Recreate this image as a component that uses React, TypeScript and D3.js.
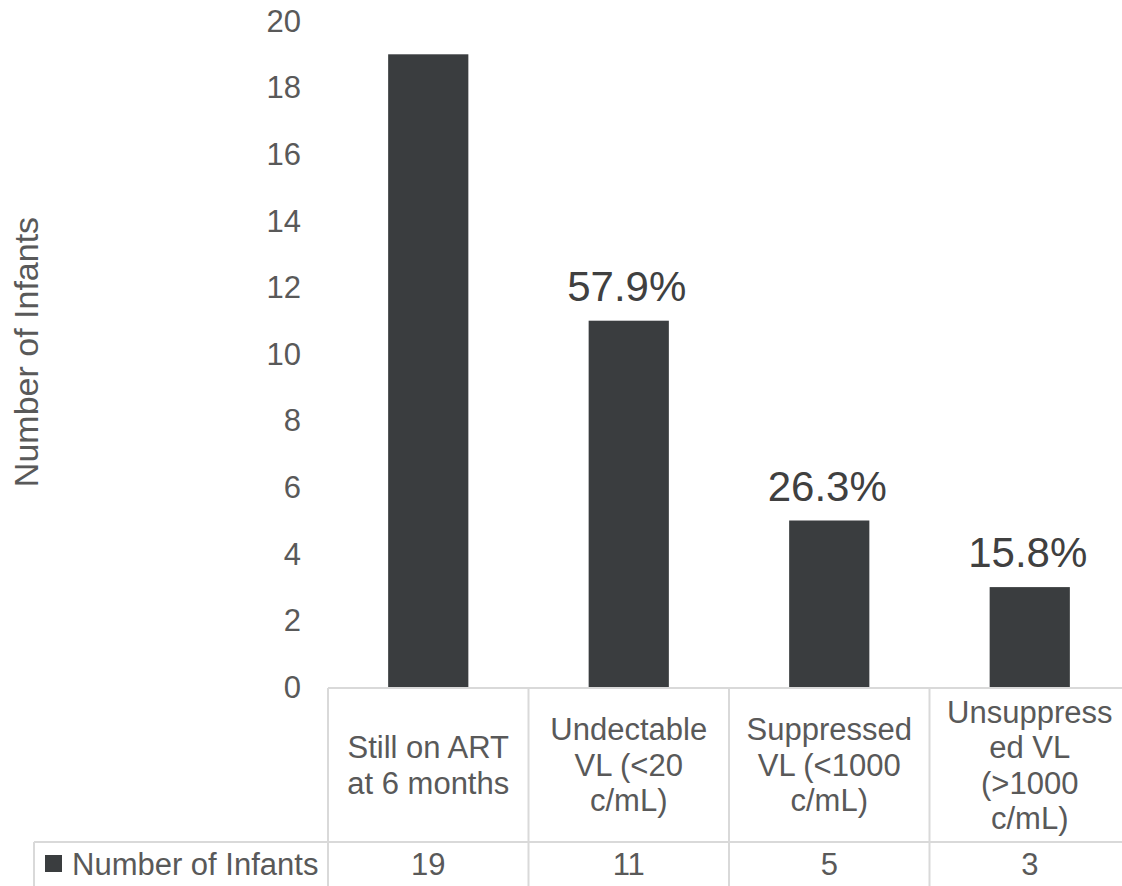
import React from "react";
import * as d3 from "d3";

// Chart data
const categories: string[][] = [
  ["Still on ART", "at 6 months"],
  ["Undectable", "VL (<20", "c/mL)"],
  ["Suppressed", "VL (<1000", "c/mL)"],
  ["Unsuppress", "ed VL", "(>1000", "c/mL)"],
];
const infants: number[] = [19, 11, 5, 3];
const percentLabels: (string | null)[] = [null, "57.9%", "26.3%", "15.8%"];
const yTicks: number[] = [0, 2, 4, 6, 8, 10, 12, 14, 16, 18, 20];
const seriesName = "Number of Infants";
const yTitle = "Number of Infants";

const W = 1122;
const H = 886;
const FONT = "'Liberation Sans', Arial, Helvetica, sans-serif";
const BAR = "#3a3d3f";
const GRID = "#d9d9d9";
const TEXT = "#595959";

export default function App() {
  const keys = categories.map((_, i) => String(i));
  const x = d3.scaleBand<string>().domain(keys).range([328, 1130]).paddingInner(0).paddingOuter(0);
  const y = d3.scaleLinear().domain([0, 20]).range([687, 21]);
  const bw = x.bandwidth();
  const barW = bw * 0.4;

  const tableTop = y(0) + 1;
  const rowSep = 842;
  const catMid = (tableTop + rowSep) / 2;
  const lineH = 35.5;
  const valMid = 864;

  return (
    <svg
      width={W}
      height={H}
      style={{ position: "absolute", left: 0, top: 0, background: "#fff" }}
      fontFamily={FONT}
    >
      <rect x={0} y={0} width={W} height={H} fill="#fff" />

      {/* y tick labels */}
      {yTicks.map((t) => (
        <text key={t} x={301} y={y(t)} dy="0.35em" textAnchor="end" fontSize={31} fill={TEXT}>
          {t}
        </text>
      ))}

      {/* y axis title */}
      <text
        transform={`translate(26,${352}) rotate(-90)`}
        textAnchor="middle"
        dy="0.35em"
        fontSize={34}
        fill={TEXT}
      >
        {yTitle}
      </text>

      {/* bars */}
      {infants.map((v, i) => {
        const cx = (x(String(i)) as number) + bw / 2;
        return (
          <rect key={i} x={cx - barW / 2} y={y(v)} width={barW} height={y(0) - y(v)} fill={BAR} />
        );
      })}

      {/* percentage labels */}
      {infants.map((v, i) =>
        percentLabels[i] ? (
          <text
            key={i}
            x={(x(String(i)) as number) + bw / 2 - 2}
            y={y(v) - 20}
            textAnchor="middle"
            fontSize={42}
            fill="#404040"
          >
            {percentLabels[i]}
          </text>
        ) : null
      )}

      {/* data table grid */}
      <g stroke={GRID} strokeWidth={2} fill="none">
        <line x1={328} x2={1135} y1={tableTop} y2={tableTop} />
        <line x1={34} x2={1135} y1={rowSep} y2={rowSep} />
        <line x1={34} x2={34} y1={rowSep} y2={H + 5} />
        {keys.map((k) => (
          <line key={k} x1={x(k) as number} x2={x(k) as number} y1={tableTop} y2={H + 5} />
        ))}
      </g>

      {/* category labels */}
      {categories.map((lines, i) => {
        const cx = (x(String(i)) as number) + bw / 2;
        return (
          <text key={i} textAnchor="middle" fontSize={31} fill={TEXT}>
            {lines.map((ln, j) => (
              <tspan key={j} x={cx} y={catMid + (j - (lines.length - 1) / 2) * lineH} dy="0.35em">
                {ln}
              </tspan>
            ))}
          </text>
        );
      })}

      {/* value row */}
      <rect x={45} y={855} width={17} height={17} fill={BAR} />
      <text x={72} y={valMid} dy="0.35em" fontSize={31} fill={TEXT}>
        {seriesName}
      </text>
      {infants.map((v, i) => (
        <text
          key={i}
          x={(x(String(i)) as number) + bw / 2}
          y={valMid}
          dy="0.35em"
          textAnchor="middle"
          fontSize={31}
          fill={TEXT}
        >
          {v}
        </text>
      ))}
    </svg>
  );
}
